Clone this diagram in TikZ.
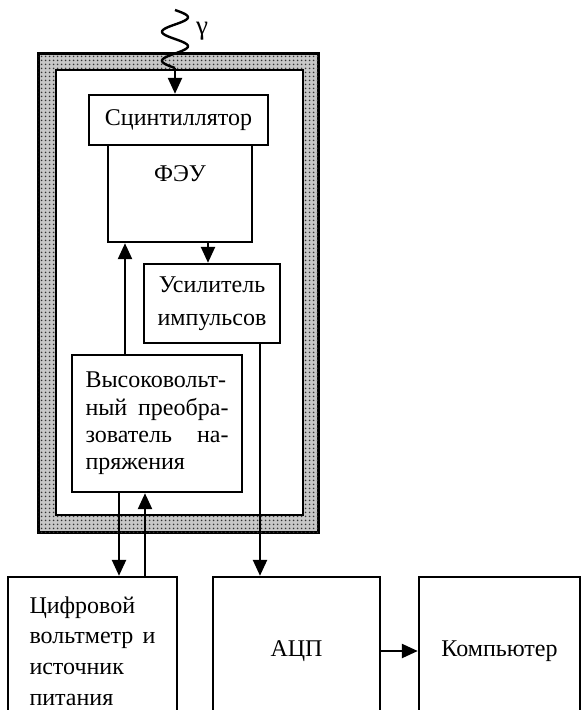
\documentclass[tikz,border=0pt]{standalone}
\usepackage{fontspec}
\setmainfont{Liberation Serif}
\usetikzlibrary{positioning}
\usetikzlibrary{patterns}
\usetikzlibrary{arrows.meta}
\usetikzlibrary{calc}

\pgfdeclarepatternformonly{shielddots}{\pgfpointorigin}{\pgfqpoint{4pt}{4pt}}{\pgfqpoint{4pt}{4pt}}{%
  \pgfpathcircle{\pgfqpoint{2pt}{2pt}}{1.1pt}\pgfusepath{fill}}

\begin{document}
\begin{tikzpicture}[x=1pt, y=-1pt]
% tikz settings
\tikzstyle{block} = [rectangle, draw, line width=2.4pt, inner sep=0pt,
    font=\fontsize{24}{27.3}\selectfont]
\tikzstyle{lowblock} = [block, minimum height=148pt,
    font=\fontsize{24}{30.7}\selectfont]
\tikzstyle{line} = [draw, line width=2.4pt, -{Triangle[length=16pt,width=14pt]}]
\tikzstyle{shield} = [rectangle, draw, line width=3pt, inner sep=0pt,
    fill=black!22, postaction={pattern=shielddots, pattern color=black!80}]

\useasboundingbox (0,0) rectangle (581,710);
\clip (0,0) rectangle (581,710);

% the shield
\node [shield, minimum width=280pt, minimum height=479pt] (shield) at (178,292.5) {};
\node [rectangle, draw, fill=white, line width=2.6pt, inner sep=0pt,
    minimum width=247pt, minimum height=445pt] (housing) at (179.5,292.5) {};

% the detector
\node [block, minimum width=179pt, minimum height=50pt] (scint) at (178.5,120) {Сцинтиллятор};
\node [block, minimum width=144pt, minimum height=97pt,
    label={[anchor=center, yshift=-30pt, font=\fontsize{24}{27.3}\selectfont]north:ФЭУ}]
    (feu) at (180,193.5) {};
\node [block, align=center, minimum width=136pt, minimum height=79pt,
    font=\fontsize{24}{33}\selectfont] (amp) at (212,303.5) {Усилитель\\импульсов};
\node [block, text width=143pt, align=left, minimum width=170pt, minimum height=137pt]
    (hv) at (157,423.5) {Высоковольт-\\ный\hfill преобра-\\зователь\hfill на-\\пряжения};

% the outer devices
\node [lowblock, text width=126pt, align=left, minimum width=169pt] (volt) at (92.5,651)
    {Цифровой\\вольтметр\hfill и\\источник\\питания};
\node [lowblock, align=center, minimum width=167pt] (adc) at (296.5,651) {АЦП};
\node [lowblock, align=center, minimum width=161pt] (comp) at (499.5,651) {Компьютер};

% the gamma quantum
\coordinate (gend) at (175,68);
\draw [line width=2.4pt] plot [domain=0:2, samples=60, smooth] ({175+13*sin(\x*360)}, {10+29*\x});
\node (gamma) at (202,31) {\fontsize{27}{30}\selectfont γ};
\path [line] (gend) -- (gend |- scint.north);

% the connections
\path [line] ([xshift=28pt]feu.south) -- ([xshift=28pt]feu.south |- amp.north);
\path [line] ([xshift=-32pt]hv.north) -- ([xshift=-32pt]hv.north |- feu.south);
\path [line] ([xshift=26.5pt]volt.north |- hv.south) -- ([xshift=26.5pt]volt.north);
\path [line] ([xshift=52.5pt]volt.north) -- ([xshift=52.5pt]volt.north |- hv.south);
\path [line] ([xshift=48pt]amp.south) -- ([xshift=48pt]amp.south |- adc.north);
\path [line] (adc.east) -- (comp.west);
\end{tikzpicture}
\end{document}
